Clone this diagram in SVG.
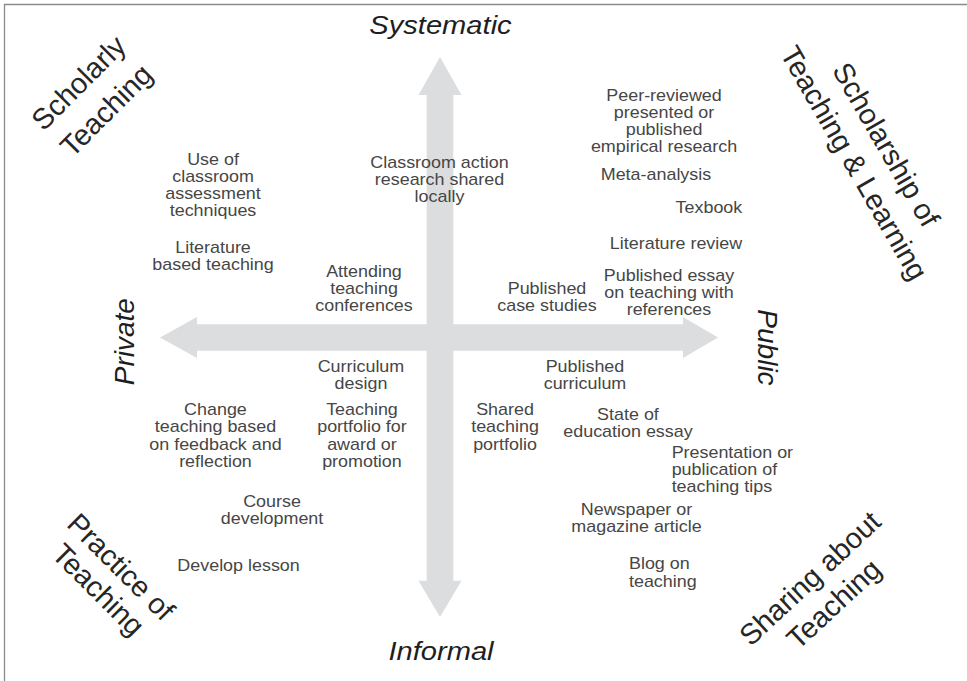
<svg xmlns="http://www.w3.org/2000/svg" width="967" height="681" viewBox="0 0 967 681">
<style>
.item{font-family:"Liberation Sans",Arial,Helvetica,sans-serif;font-size:16px;fill:#464646;text-anchor:middle}
.left{text-anchor:start}
.axis{font-family:"Liberation Sans",Arial,Helvetica,sans-serif;font-style:italic;fill:#1e1e1e;text-anchor:middle}
.quad{font-family:"Liberation Sans",Arial,Helvetica,sans-serif;font-size:29px;fill:#262626;text-anchor:middle}
.arrow{fill:#dcdddf}
</style>
<rect width="967" height="681" fill="#ffffff"/>
<path d="M4.5 681 V4.5 H967" fill="none" stroke="#8a8a8a" stroke-width="1.3"/>
<g id="connectors">
<polygon class="arrow" points="160,337.5 197,317 197,324.3 683,324.3 683,317 718,337.5 683,358 683,350.7 197,350.7 197,358"/>
<polygon class="arrow" points="440,57 461.5,95 453.3,95 453.3,580.7 461.5,580.7 440,617 418.5,580.7 426.7,580.7 426.7,95 418.5,95"/>
</g>
<g id="axis-labels">
<g id="systematic" transform="scale(1.12 1)"><text class="axis" x="393.3" y="34" font-size="26">Systematic</text></g>
<g id="informal" transform="scale(1.12 1)"><text class="axis" x="393.75" y="660" font-size="26">Informal</text></g>
<g id="private"><text class="axis" x="134" y="341.7" font-size="28" transform="rotate(-90 134 341.7)">Private</text></g>
<g id="public"><text class="axis" x="758" y="347.5" font-size="28" transform="rotate(90 758 347.5)">Public</text></g>
</g>
<g id="quadrant-labels">
<g id="scholarly-teaching" transform="translate(94.5 98.7) rotate(-45)"><text class="quad" x="0" y="-12.5">Scholarly</text><text class="quad" x="0" y="26.5">Teaching</text></g>
<g id="sotl" transform="translate(868 155) rotate(60)"><text class="quad" x="0" y="-11">Scholarship of</text><text class="quad" x="0" y="26">Teaching &amp; Learning</text></g>
<g id="practice-of-teaching" transform="translate(109 579) rotate(45)"><text class="quad" x="0" y="-7">Practice of</text><text class="quad" x="0" y="25">Teaching</text></g>
<g id="sharing-about-teaching" transform="translate(823.5 593) rotate(-43)"><text class="quad" x="0" y="-10">Sharing about</text><text class="quad" x="0" y="25">Teaching</text></g>
</g>
<g id="items" transform="scale(1.12 1)">
<g id="use-of-cat"><text class="item" x="190.2" y="165">Use of</text><text class="item" x="190.2" y="182">classroom</text><text class="item" x="190.2" y="199">assessment</text><text class="item" x="190.2" y="216">techniques</text></g>
<g id="literature-based"><text class="item" x="190.2" y="253">Literature</text><text class="item" x="190.2" y="270">based teaching</text></g>
<g id="classroom-action"><text class="item" x="392.4" y="168">Classroom action</text><text class="item" x="392.4" y="185">research shared</text><text class="item" x="392.4" y="202">locally</text></g>
<g id="attending"><text class="item" x="325" y="277">Attending</text><text class="item" x="325" y="294">teaching</text><text class="item" x="325" y="311">conferences</text></g>
<g id="published-case"><text class="item" x="488.4" y="294">Published</text><text class="item" x="488.4" y="311">case studies</text></g>
<g id="peer-reviewed"><text class="item" x="592.9" y="101">Peer-reviewed</text><text class="item" x="592.9" y="118">presented or</text><text class="item" x="592.9" y="135">published</text><text class="item" x="592.9" y="152">empirical research</text></g>
<g id="meta-analysis"><text class="item" x="585.7" y="180">Meta-analysis</text></g>
<g id="texbook"><text class="item" x="633" y="213">Texbook</text></g>
<g id="literature-review"><text class="item" x="603.6" y="249">Literature review</text></g>
<g id="published-essay"><text class="item" x="597.3" y="281">Published essay</text><text class="item" x="597.3" y="298">on teaching with</text><text class="item" x="597.3" y="315">references</text></g>
<g id="curriculum-design"><text class="item" x="322.3" y="372">Curriculum</text><text class="item" x="322.3" y="389">design</text></g>
<g id="teaching-portfolio"><text class="item" x="323.2" y="415">Teaching</text><text class="item" x="323.2" y="432.5">portfolio for</text><text class="item" x="323.2" y="450">award or</text><text class="item" x="323.2" y="467.5">promotion</text></g>
<g id="change-teaching"><text class="item" x="192.4" y="415">Change</text><text class="item" x="192.4" y="432.5">teaching based</text><text class="item" x="192.4" y="450">on feedback and</text><text class="item" x="192.4" y="467.5">reflection</text></g>
<g id="course-development"><text class="item" x="242.9" y="507">Course</text><text class="item" x="242.9" y="524">development</text></g>
<g id="develop-lesson"><text class="item" x="213" y="571">Develop lesson</text></g>
<g id="shared-portfolio"><text class="item" x="450.9" y="415">Shared</text><text class="item" x="450.9" y="432.5">teaching</text><text class="item" x="450.9" y="450">portfolio</text></g>
<g id="published-curriculum"><text class="item" x="522.3" y="372">Published</text><text class="item" x="522.3" y="389">curriculum</text></g>
<g id="state-of-education"><text class="item" x="560.7" y="420">State of</text><text class="item" x="560.7" y="437">education essay</text></g>
<g id="presentation-tips"><text class="item left" x="599.7" y="458">Presentation or</text><text class="item left" x="599.7" y="475">publication of</text><text class="item left" x="599.7" y="492">teaching tips</text></g>
<g id="newspaper"><text class="item" x="568.3" y="515">Newspaper or</text><text class="item" x="568.3" y="532">magazine article</text></g>
<g id="blog"><text class="item left" x="561.6" y="569.5">Blog on</text><text class="item left" x="561.6" y="587">teaching</text></g>
</g>
</svg>
